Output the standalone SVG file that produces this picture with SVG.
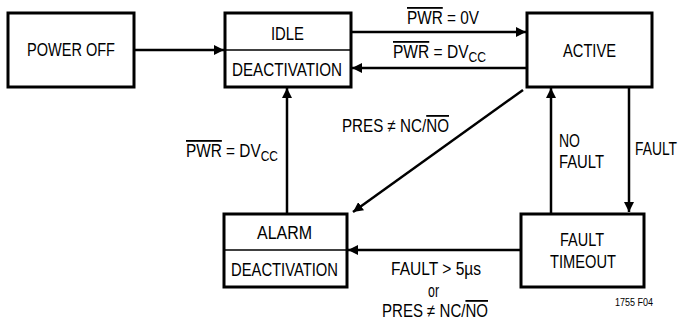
<svg xmlns="http://www.w3.org/2000/svg" width="681" height="321" viewBox="0 0 681 321">
<defs>
<marker id="ah" viewBox="0 0 10 10" refX="10" refY="5" markerWidth="10" markerHeight="10" markerUnits="userSpaceOnUse" orient="auto">
<path d="M0,0 L10,5 L0,10 Z" fill="#000"/>
</marker>
</defs>
<style>
.box{fill:#fff;stroke:#000;stroke-width:3}
.div{stroke:#000;stroke-width:1.5}
.t{font-family:"Liberation Sans",Arial,sans-serif;font-size:18px;fill:#000}
.c{text-anchor:middle}
.con{stroke:#000;stroke-width:2.5;fill:none;marker-end:url(#ah)}
.ov{text-decoration:overline}
.sm{font-size:10px}
</style>
<rect width="681" height="321" fill="#fff"/>
<g id="connectors">
<line class="con" x1="134" y1="50" x2="224" y2="50"/>
<line class="con" x1="351" y1="32" x2="526" y2="32"/>
<line class="con" x1="527" y1="68" x2="352" y2="68"/>
<line class="con" x1="287" y1="213" x2="287" y2="88"/>
<line class="con" x1="523" y1="90" x2="353" y2="212"/>
<line class="con" x1="551" y1="213" x2="551" y2="88"/>
<line class="con" x1="629" y1="87" x2="629" y2="212"/>
<line class="con" x1="521" y1="250" x2="348" y2="250"/>
<text class="t" x="407" y="24" textLength="72" lengthAdjust="spacingAndGlyphs"><tspan class="ov">PWR</tspan> = 0V</text>
<text class="t" x="393" y="58" textLength="93" lengthAdjust="spacingAndGlyphs"><tspan class="ov">PWR</tspan> = DV<tspan font-size="14" dy="4">CC</tspan></text>
<text class="t" x="186" y="157" textLength="92" lengthAdjust="spacingAndGlyphs"><tspan class="ov">PWR</tspan> = DV<tspan font-size="14" dy="4">CC</tspan></text>
<text class="t" x="342" y="132" textLength="107" lengthAdjust="spacingAndGlyphs">PRES ≠ NC/<tspan class="ov">NO</tspan></text>
<text class="t" x="559" y="147" textLength="21" lengthAdjust="spacingAndGlyphs">NO</text>
<text class="t" x="559" y="168" textLength="45" lengthAdjust="spacingAndGlyphs">FAULT</text>
<text class="t" x="635" y="155" textLength="42" lengthAdjust="spacingAndGlyphs">FAULT</text>
<text class="t" x="391" y="275" textLength="90" lengthAdjust="spacingAndGlyphs">FAULT &gt; 5µs</text>
<text class="t" x="428" y="297" textLength="11" lengthAdjust="spacingAndGlyphs">or</text>
<text class="t" x="382" y="317" textLength="106" lengthAdjust="spacingAndGlyphs">PRES ≠ NC/<tspan class="ov">NO</tspan></text>
</g>
<g id="power-off">
<rect class="box" x="8" y="13" width="126" height="74"/>
<text class="t" x="27" y="56" textLength="88" lengthAdjust="spacingAndGlyphs">POWER OFF</text>
</g>
<g id="idle">
<rect class="box" x="225" y="13" width="126" height="74"/>
<line class="div" x1="225" y1="50" x2="351" y2="50"/>
<text class="t" x="271" y="40" textLength="33" lengthAdjust="spacingAndGlyphs">IDLE</text>
<text class="t" x="232" y="76" textLength="110" lengthAdjust="spacingAndGlyphs">DEACTIVATION</text>
</g>
<g id="active">
<rect class="box" x="527" y="13" width="125" height="74"/>
<text class="t" x="563" y="57" textLength="53" lengthAdjust="spacingAndGlyphs">ACTIVE</text>
</g>
<g id="alarm">
<rect class="box" x="224" y="214" width="123" height="73"/>
<line class="div" x1="224" y1="250" x2="347" y2="250"/>
<text class="t" x="257" y="239" textLength="55" lengthAdjust="spacingAndGlyphs">ALARM</text>
<text class="t" x="231" y="276" textLength="107" lengthAdjust="spacingAndGlyphs">DEACTIVATION</text>
</g>
<g id="fault-timeout">
<rect class="box" x="521" y="214" width="123" height="73"/>
<text class="t" x="560" y="246" textLength="44" lengthAdjust="spacingAndGlyphs">FAULT</text>
<text class="t" x="550" y="268" textLength="66" lengthAdjust="spacingAndGlyphs">TIMEOUT</text>
</g>
<text class="t sm" x="615" y="306" textLength="38" lengthAdjust="spacingAndGlyphs">1755 F04</text>
</svg>
